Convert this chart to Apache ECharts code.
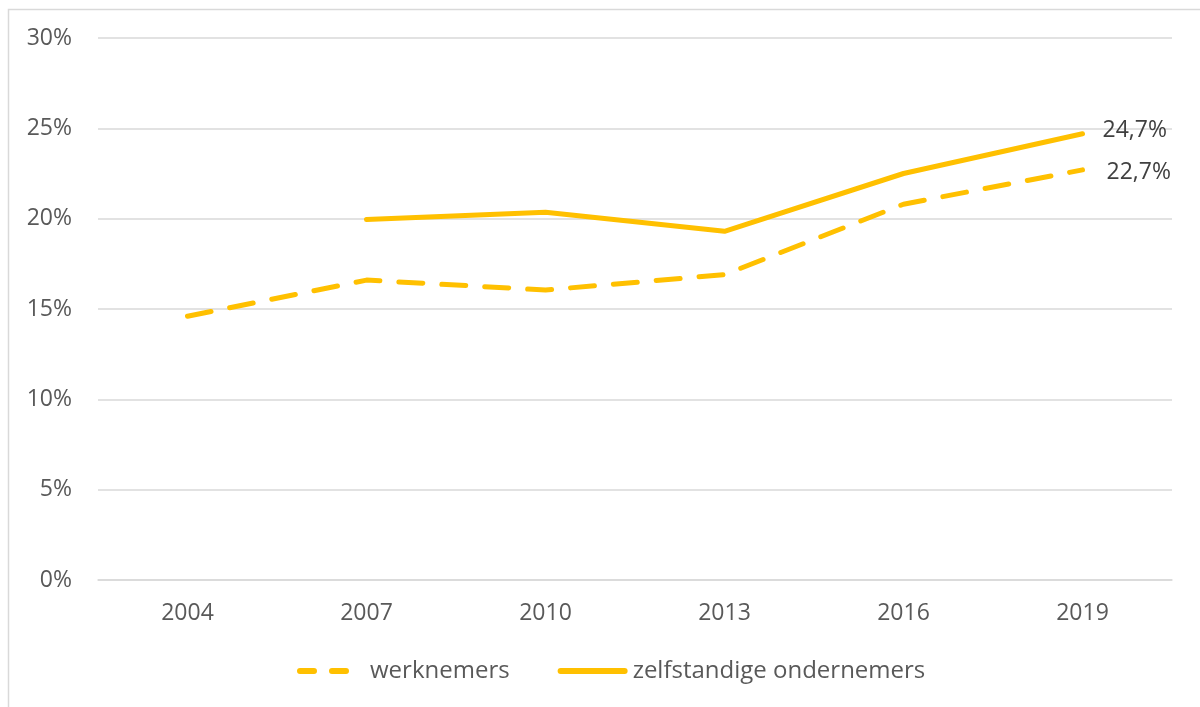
<!DOCTYPE html>
<html>
<head>
<meta charset="utf-8">
<script src="https://cdn.jsdelivr.net/npm/echarts@6/dist/echarts.min.js"></script>
<style>
  html, body { margin: 0; padding: 0; background: #ffffff; }
  #chart { width: 1200px; height: 707px; }
</style>
</head>
<body>
<div id="chart"></div>
<script>
// jaren
const years = ["2004", "2007", "2010", "2013", "2016", "2019"];
// werknemers (%)
const werknemers = [14.6, 16.6, 16.05, 16.9, 20.8, 22.7];
// zelfstandige ondernemers (%), geen waarde voor 2004
const zelfstandigen = [null, 19.95, 20.35, 19.3, 22.5, 24.7];

const gold = "#FFC000";
const font = "'Open Sans', sans-serif";

function fmt(p) {
  return p.value.toFixed(1).replace(".", ",") + "%";
}

// legend iconen: gestreept en doorgetrokken
const dashIcon = "path://M3,0 L17,0 A3,3 0 0 1 17,6 L3,6 A3,3 0 0 1 3,0 Z M35,0 L49,0 A3,3 0 0 1 49,6 L35,6 A3,3 0 0 1 35,0 Z";
const solidIcon = "path://M3,0 L67,0 A3,3 0 0 1 67,6 L3,6 A3,3 0 0 1 3,0 Z";

const myChart = echarts.init(document.getElementById("chart"));
const option = {
  backgroundColor: "#ffffff",
  animation: false,
  graphic: [
    {
      type: "polyline",
      shape: { points: [[8.5, 707], [8.5, 9.5], [1200, 9.5]] },
      style: { stroke: "#d9d9d9", lineWidth: 1.5, fill: null },
      silent: true
    }
  ],
  grid: {
    left: 98,
    right: 28,
    top: 38,
    bottom: 127
  },
  legend: {
    bottom: 19,
    left: 292,
    itemHeight: 6,
    itemGap: 48,
    textStyle: { color: "#595959", fontSize: 24, fontFamily: font },
    data: [
      {
        name: "werknemers",
        icon: dashIcon,
        itemStyle: { color: gold },
        textStyle: { padding: [0, 0, 0, 7] }
      },
      { name: "zelfstandige ondernemers", icon: solidIcon, itemStyle: { color: gold } }
    ],
    itemWidth: 70
  },
  xAxis: {
    type: "category",
    data: years,
    boundaryGap: true,
    axisLine: { show: true, lineStyle: { color: "#d9d9d9", width: 1.5 } },
    axisTick: { show: false },
    axisLabel: { color: "#595959", fontSize: 23, fontFamily: font, margin: 22 }
  },
  yAxis: {
    type: "value",
    min: 0,
    max: 30,
    interval: 5,
    axisLine: { show: false },
    axisTick: { show: false },
    axisLabel: {
      color: "#595959",
      fontSize: 23,
      fontFamily: font,
      margin: 26,
      formatter: function (v) { return v + "%"; }
    },
    splitLine: { lineStyle: { color: "#d9d9d9", width: 1.5 } }
  },
  series: [
    {
      name: "werknemers",
      type: "line",
      data: werknemers,
      symbol: "none",
      color: gold,
      lineStyle: { color: gold, width: 5, type: [24, 19], cap: "round" },
      endLabel: {
        show: true,
        formatter: fmt,
        distance: 24,
        offset: [0, 3],
        color: "#404040",
        fontSize: 23,
        fontFamily: font
      }
    },
    {
      name: "zelfstandige ondernemers",
      type: "line",
      data: zelfstandigen,
      symbol: "none",
      connectNulls: false,
      color: gold,
      lineStyle: { color: gold, width: 5, cap: "round" },
      endLabel: {
        show: true,
        formatter: fmt,
        distance: 20,
        offset: [0, -3],
        color: "#404040",
        fontSize: 23,
        fontFamily: font
      }
    }
  ]
};
myChart.setOption(option);
</script>
</body>
</html>
